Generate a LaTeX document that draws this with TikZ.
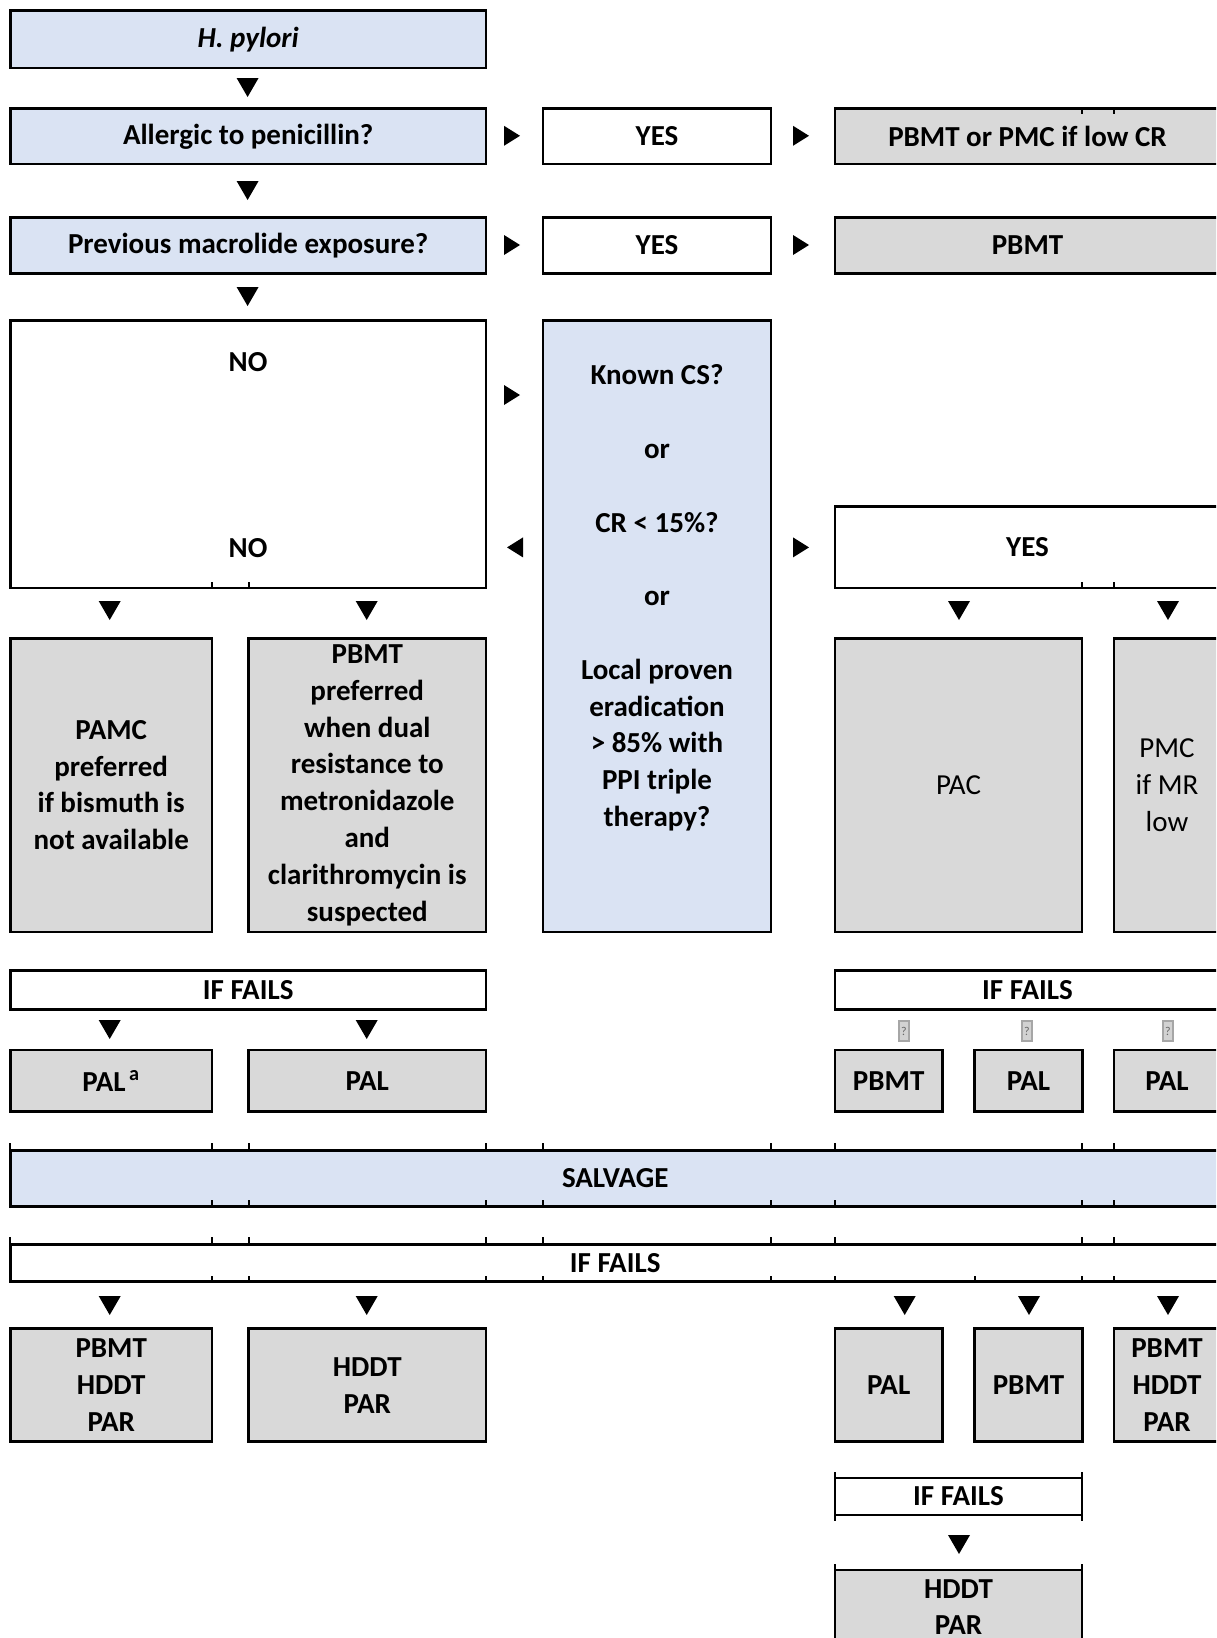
\documentclass[tikz,border=0pt]{standalone}
\usepackage{fontspec}
\setmainfont{Carlito}
\definecolor{bluebox}{HTML}{DAE3F3}
\definecolor{graybox}{HTML}{D9D9D9}
\newcommand\msz{\fontsize{14.5}{18.4}\selectfont}
\newcommand\mybox[7]{%
  \pgfmathsetmacro\bcx{(#3+#5)/2}%
  \pgfmathsetmacro\bcy{(#4+#6)/2}%
  \pgfmathsetmacro\bww{(#5-#3)/2}%
  \pgfmathsetmacro\bhh{(#6-#4)/2}%
  \node[#1, minimum width=\bww pt, minimum height=\bhh pt] (#2) at (\bcx,\bcy) {#7};}
\begin{document}
\begin{tikzpicture}[x=0.5pt,y=-0.5pt,
  box/.style={draw=black, line width=1.4pt, inner sep=0pt, align=center, font=\msz\bfseries},
  bluefill/.style={box, fill=bluebox},
  grayfill/.style={box, fill=graybox},
  whitefill/.style={box, fill=white},
  plaintxt/.style={inner sep=0pt, align=center, font=\msz\bfseries},
  tk/.style={line width=1pt},
  dn/.pic={\fill[black] (-11,-9) -- (11,-9) -- (0,10) -- cycle;},
  rt/.pic={\fill[black] (-8,-10) -- (-8,10) -- (8,0) -- cycle;},
  lt/.pic={\fill[black] (8,-10) -- (8,10) -- (-8,0) -- cycle;},
  qm/.style={draw=gray!70, fill=gray!35, line width=0.8pt, minimum width=5pt, minimum height=10pt, inner sep=0pt, font=\fontsize{6}{6}\selectfont\color{gray!80!black}}
]
\useasboundingbox (0,0) rectangle (1216,1638);
\clip (0,0) rectangle (1216,1638);

% top column
\mybox{bluefill}{hp}{10.4}{10.4}{486}{67.9}{\itshape H. pylori}
\mybox{bluefill}{allerg}{10.4}{108.6}{486}{164}{Allergic to penicillin?}
\mybox{bluefill}{prev}{10.4}{217.3}{486}{273.7}{Previous macrolide exposure?}
\mybox{whitefill}{yes1}{543}{108.6}{771}{164}{YES}
\mybox{whitefill}{yes2}{543}{217.3}{771}{273.7}{YES}
\mybox{grayfill}{r1}{835}{108.6}{1220}{164}{PBMT or PMC if low CR}
\mybox{grayfill}{r2}{835}{217.3}{1220}{273.7}{PBMT}

% NO box and question column
\mybox{whitefill}{no}{10.4}{320.7}{486}{588}{}
\node[plaintxt] (no1) at (248,362.5) {NO};
\node[plaintxt] (no2) at (248,548.5) {NO};
\mybox{bluefill}{known}{543}{320.7}{771}{932}{}
\node[plaintxt] (knowntxt) at (657,598) {Known CS?\\[18.4pt]or\\[18.4pt]CR {<} 15\%?\\[18.4pt]or\\[18.4pt]Local proven\\eradication\\{>} 85\% with\\PPI triple\\therapy?};
\mybox{whitefill}{yes3}{835}{506.7}{1220}{588}{YES}

\mybox{grayfill}{pamc}{10.4}{638.3}{212}{932}{PAMC\\preferred\\if bismuth is\\not available}
\mybox{grayfill}{pbmtp}{248.6}{638.3}{486}{932}{PBMT\\preferred\\when dual\\resistance to\\metronidazole\\and\\clarithromycin is\\suspected}
\mybox{grayfill, font=\msz\mdseries}{pac}{835}{638.3}{1082}{932}{PAC}
\mybox{grayfill, font=\msz\mdseries}{pmc}{1114}{638.3}{1220}{932}{PMC\\if MR\\low}

% if fails row 1
\mybox{whitefill}{iff1}{10.4}{970.5}{486}{1009.2}{IF FAILS}
\mybox{whitefill}{iff2}{835}{970.5}{1220}{1009.2}{IF FAILS}
\mybox{grayfill}{pal1}{10.4}{1050}{212}{1111.5}{PAL\textsuperscript{\,a}}
\mybox{grayfill}{pal2}{248.6}{1050}{486}{1111.5}{PAL}
\mybox{grayfill}{pbmt3}{835}{1050}{942.3}{1111.5}{PBMT}
\mybox{grayfill}{pal3}{974.7}{1050}{1082.3}{1111.5}{PAL}
\mybox{grayfill}{pal4}{1114}{1050}{1220}{1111.5}{PAL}

% salvage
\mybox{bluefill}{salv}{10.4}{1150.2}{1220}{1206.6}{SALVAGE}
\mybox{whitefill}{iff3}{10.4}{1244.2}{1220}{1281.8}{IF FAILS}

\mybox{grayfill}{b1}{10.4}{1328.8}{212}{1441.6}{PBMT\\HDDT\\PAR}
\mybox{grayfill}{b2}{248.6}{1328.8}{486}{1441.6}{HDDT\\PAR}
\mybox{grayfill}{b3}{835}{1328.8}{942.3}{1441.6}{PAL}
\mybox{grayfill}{b4}{974.7}{1328.8}{1082.3}{1441.6}{PBMT}
\mybox{grayfill}{b5}{1114}{1328.8}{1220}{1441.6}{PBMT\\HDDT\\PAR}

\mybox{whitefill}{iff4}{835}{1478}{1082}{1515}{IF FAILS}
\mybox{grayfill}{last}{835}{1570}{1082}{1644}{HDDT\\PAR}

% arrowheads
\pic (a1) at (247.6,87) {dn};
\pic (a2) at (247.6,190) {dn};
\pic (a3) at (247.6,296) {dn};
\pic (a4) at (512,135.8) {rt};
\pic (a5) at (512,245) {rt};
\pic (a6) at (512,395) {rt};
\pic (a7) at (515,547.4) {lt};
\pic (a8) at (801,135.8) {rt};
\pic (a9) at (801,245) {rt};
\pic (a10) at (801,547.4) {rt};
\pic (a11) at (109.7,610) {dn};
\pic (a12) at (366.7,610) {dn};
\pic (a13) at (959,610) {dn};
\pic (a14) at (1168,610) {dn};
\pic (a15) at (109.7,1029) {dn};
\pic (a16) at (366.7,1029) {dn};
\node[qm] (q1) at (904,1031) {?};
\node[qm] (q2) at (1027,1031) {?};
\node[qm] (q3) at (1168,1031) {?};
\pic (a17) at (109.7,1305) {dn};
\pic (a18) at (366.7,1305) {dn};
\pic (a19) at (904.7,1305) {dn};
\pic (a20) at (1029,1305) {dn};
\pic (a21) at (1168,1305) {dn};
\pic (a22) at (959,1544) {dn};

% small table-grid ticks
\foreach \x in {10.4,212,248.6,486,543,771,835,1082,1114} {
  \draw[tk] (\x,1143) -- (\x,1150);
  \draw[tk] (\x,1200) -- (\x,1206);
  \draw[tk] (\x,1237) -- (\x,1244);
}
\foreach \x in {212,248.6,486,543,771,835,975,1082,1114} {
  \draw[tk] (\x,1276) -- (\x,1282);
}
\foreach \x in {212,248.6} { \draw[tk] (\x,582) -- (\x,588); }
\foreach \x in {1082,1114} {
  \draw[tk] (\x,582) -- (\x,588);
  \draw[tk] (\x,108.6) -- (\x,114);
}
\foreach \x in {835,1082} {
  \draw[line width=1.4pt] (\x,1472) -- (\x,1521);
  \draw[line width=1.4pt] (\x,1564) -- (\x,1570);
}
\end{tikzpicture}
\end{document}
